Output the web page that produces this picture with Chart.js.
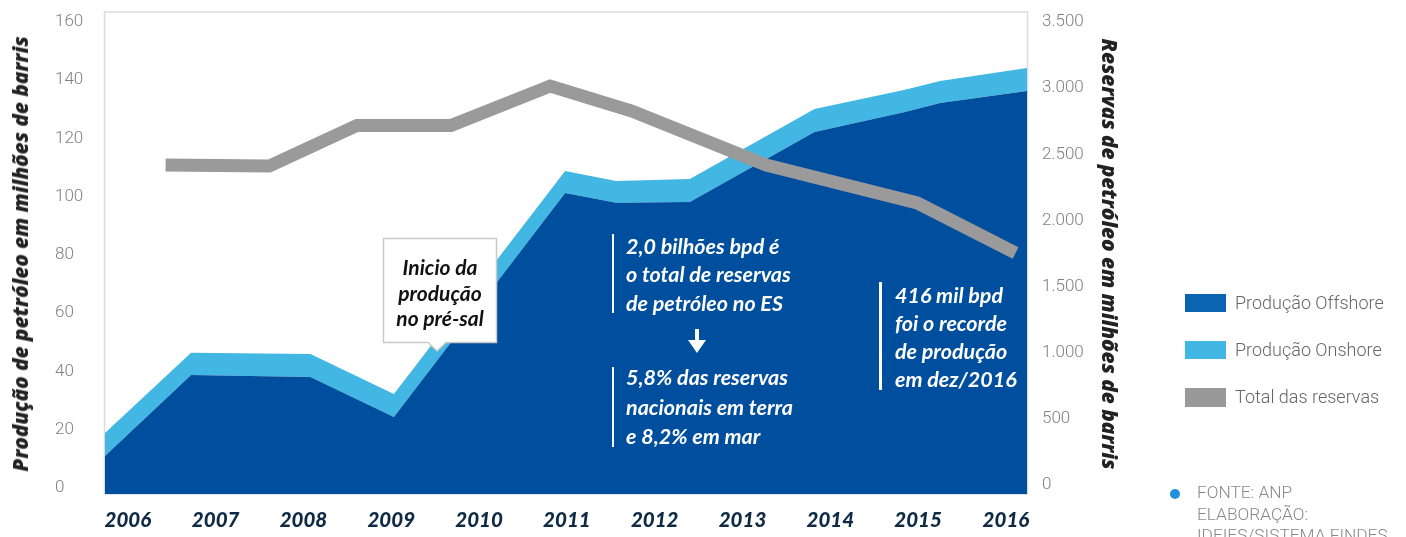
<!DOCTYPE html>
<html>
<head>
<meta charset="utf-8">
<script src="https://cdn.jsdelivr.net/npm/chart.js@4.4.1/dist/chart.umd.min.js"></script>
<style>
  html, body { margin: 0; padding: 0; background: #fff; }
  #wrap { position: relative; width: 1406px; height: 537px; overflow: hidden; }
  canvas { position: absolute; left: 0; top: 0; }
  .abs { position: absolute; white-space: nowrap; }
  .axt { font-family: "Open Sans", sans-serif; font-weight: 800; font-style: italic; font-size: 20.7px; color: #222; }
  .note { font-family: Lato, sans-serif; font-weight: 700; font-style: italic; font-size: 21.5px; color: #fff; }
  .bar { position: absolute; background: #fff; width: 2.5px; }
  .leg { font-family: Roboto, sans-serif; font-weight: 300; font-size: 18px; color: #666; line-height: 20px; }
  .sw { position: absolute; width: 41px; height: 18px; }
  .foot { font-family: Roboto, sans-serif; font-weight: 300; font-size: 17.3px; color: #888; line-height: 21.5px; }
</style>
</head>
<body>
<div id="wrap">
  <canvas id="c" width="1406" height="537"></canvas>

  <div class="abs axt" style="left:20px;top:254px;transform:translate(-50%,-50%) rotate(-90deg);">Produção de petróleo em milhões de barris</div>
  <div class="abs axt" style="left:1110px;top:254px;transform:translate(-50%,-50%) rotate(90deg);">Reservas de petróleo em milhões de barris</div>

  <svg class="abs" style="left:0;top:0;" width="1406" height="537">
    <path d="M383.5 238.5 H496.5 V342.5 H446 L437 351 L428 342.5 H383.5 Z" fill="#fff" stroke="#c9c9c9" stroke-width="1.5"/>
    <rect x="695" y="329" width="4" height="13" fill="#fff"/>
    <path d="M688 340 L706 340 L697 353 Z" fill="#fff"/>
  </svg>
  <div class="abs note" style="left:440px;top:254px;transform:translateX(-50%);text-align:center;line-height:25.5px;color:#111;font-size:21px;">Inicio da<br>produção<br>no pré-sal</div>

  <div class="bar" style="left:611.5px;top:234px;height:79px;"></div>
  <div class="abs note" style="left:626px;top:231.5px;line-height:28.5px;">2,0 bilhões bpd é<br>o total de reservas<br>de petróleo no ES</div>

  <div class="bar" style="left:611.5px;top:367px;height:80px;"></div>
  <div class="abs note" style="left:626px;top:363px;line-height:29.5px;">5,8% das reservas<br>nacionais em terra<br>e 8,2% em mar</div>

  <div class="bar" style="left:879px;top:282px;height:108px;"></div>
  <div class="abs note" style="left:895px;top:281px;line-height:28px;">416 mil bpd<br>foi o recorde<br>de produção<br>em dez/2016</div>

  <div class="sw" style="left:1185px;top:294px;background:#0a64b2;"></div>
  <div class="abs leg" style="left:1235px;top:293px;">Produção Offshore</div>
  <div class="sw" style="left:1185px;top:341px;background:#42b7e3;"></div>
  <div class="abs leg" style="left:1235px;top:340px;">Produção Onshore</div>
  <div class="sw" style="left:1185px;top:388px;height:19px;background:#999;"></div>
  <div class="abs leg" style="left:1235px;top:387px;">Total das reservas</div>

  <div class="abs" style="left:1170px;top:489px;width:10px;height:10px;border-radius:50%;background:#1e92dc;"></div>
  <div class="abs foot" style="left:1197px;top:482px;">FONTE: ANP<br>ELABORAÇÃO:<br>IDEIES/SISTEMA FINDES</div>
</div>

<script>
// ---- data ----
const yearTicks = [2006, 2007, 2008, 2009, 2010, 2011, 2012, 2013, 2014, 2015, 2016];
const yearLabels = ['2006', '2007', '2008', '2009', '2010', '2011', '2012', '2013', '2014', '2015', '2016'];

const prodTicks = [0, 20, 40, 60, 80, 100, 120, 140, 160];
const prodLabels = ['0', '20', '40', '60', '80', '100', '120', '140', '160'];

const reserveTicks = [0, 500, 1000, 1500, 2000, 2500, 3000, 3500];
const reserveLabels = ['0', '500', '1.000', '1.500', '2.000', '2.500', '3.000', '3.500'];

// production (millions of barrels) at time positions (fractional years)
const prodTime = [2005.74, 2006.72, 2008.08, 2009.03, 2010.98, 2011.56, 2012.40, 2013.82, 2014.85, 2015.25, 2016.24];
const offshore = [11.0, 38.8, 38.1, 24.4, 101.3, 97.9, 98.2, 122.2, 129.1, 132.2, 136.3];
const onshore  = [7.9, 7.6, 7.9, 7.9, 7.5, 7.5, 7.9, 7.9, 7.6, 7.5, 7.9];

// total reserves (millions of barrels)
const reserveTime = [2006.43, 2007.61, 2008.61, 2009.68, 2010.81, 2011.74, 2013.27, 2014.99, 2016.11];
const reserves    = [2419, 2411, 2718, 2718, 3016, 2827, 2419, 2132, 1754];

// ---- chart ----
const pts = (xs, ys) => xs.map((x, i) => ({ x: x, y: ys[i] }));

const frame = {
  id: 'frame',
  beforeDatasetsDraw(chart) {
    const a = chart.chartArea, ctx = chart.ctx;
    ctx.save();
    ctx.strokeStyle = '#dcdcdc';
    ctx.lineWidth = 1.5;
    ctx.strokeRect(a.left - 0.5, a.top, a.right - a.left + 1, a.bottom - a.top);
    ctx.restore();
  }
};

const noPadV = s => { s.paddingTop = 0; s.paddingBottom = 0; };

new Chart(document.getElementById('c'), {
  type: 'line',
  data: {
    datasets: [
      {
        label: 'Produção Offshore',
        data: pts(prodTime, offshore),
        yAxisID: 'y',
        backgroundColor: '#004e9e',
        borderWidth: 0,
        pointRadius: 0,
        fill: 'start',
        tension: 0
      },
      {
        label: 'Produção Onshore',
        data: pts(prodTime, onshore),
        yAxisID: 'y',
        backgroundColor: '#42b7e3',
        borderWidth: 0,
        pointRadius: 0,
        fill: '-1',
        tension: 0
      },
      {
        label: 'Total das reservas',
        data: pts(reserveTime, reserves),
        yAxisID: 'y2',
        borderColor: '#9a9a9a',
        borderWidth: 13,
        borderCapStyle: 'butt',
        borderJoinStyle: 'miter',
        pointRadius: 0,
        fill: false,
        tension: 0,
        order: -1
      }
    ]
  },
  options: {
    responsive: false,
    animation: false,
    devicePixelRatio: 1,
    events: [],
    layout: { padding: { left: 55, right: 269, top: 12, bottom: 0 } },
    plugins: { legend: { display: false }, tooltip: { enabled: false } },
    scales: {
      x: {
        type: 'linear',
        min: 2005.74,
        max: 2016.24,
        grid: { display: false, drawTicks: false },
        border: { display: false },
        afterBuildTicks: s => { s.ticks = yearTicks.map(v => ({ value: v })); },
        afterFit: s => { s.height = 43; s.paddingLeft = 0; s.paddingRight = 0; },
        ticks: {
          padding: 14,
          maxRotation: 0,
          autoSkip: false,
          color: '#0f2a44',
          font: { family: 'Lato', weight: '900', style: 'italic', size: 20.5 },
          callback: v => yearLabels[yearTicks.indexOf(v)]
        }
      },
      y: {
        type: 'linear',
        position: 'left',
        stacked: true,
        min: -2.06,
        max: 163.43,
        grid: { display: false, drawTicks: false },
        border: { display: false },
        afterBuildTicks: s => { s.ticks = prodTicks.map(v => ({ value: v })); },
        afterFit: s => { s.width = 50; noPadV(s); },
        ticks: {
          crossAlign: 'far',
          padding: 0,
          color: '#808080',
          font: { family: 'Roboto', weight: '300', size: 17 },
          callback: v => prodLabels[prodTicks.indexOf(v)]
        }
      },
      y2: {
        type: 'linear',
        position: 'right',
        min: -68,
        max: 3575.6,
        grid: { display: false, drawTicks: false },
        border: { display: false },
        afterBuildTicks: s => { s.ticks = reserveTicks.map(v => ({ value: v })); },
        afterFit: s => { s.width = 110; noPadV(s); },
        ticks: {
          padding: 15,
          color: '#808080',
          font: { family: 'Roboto', weight: '300', size: 17 },
          callback: v => reserveLabels[reserveTicks.indexOf(v)]
        }
      }
    }
  },
  plugins: [frame]
});
</script>
</body>
</html>
